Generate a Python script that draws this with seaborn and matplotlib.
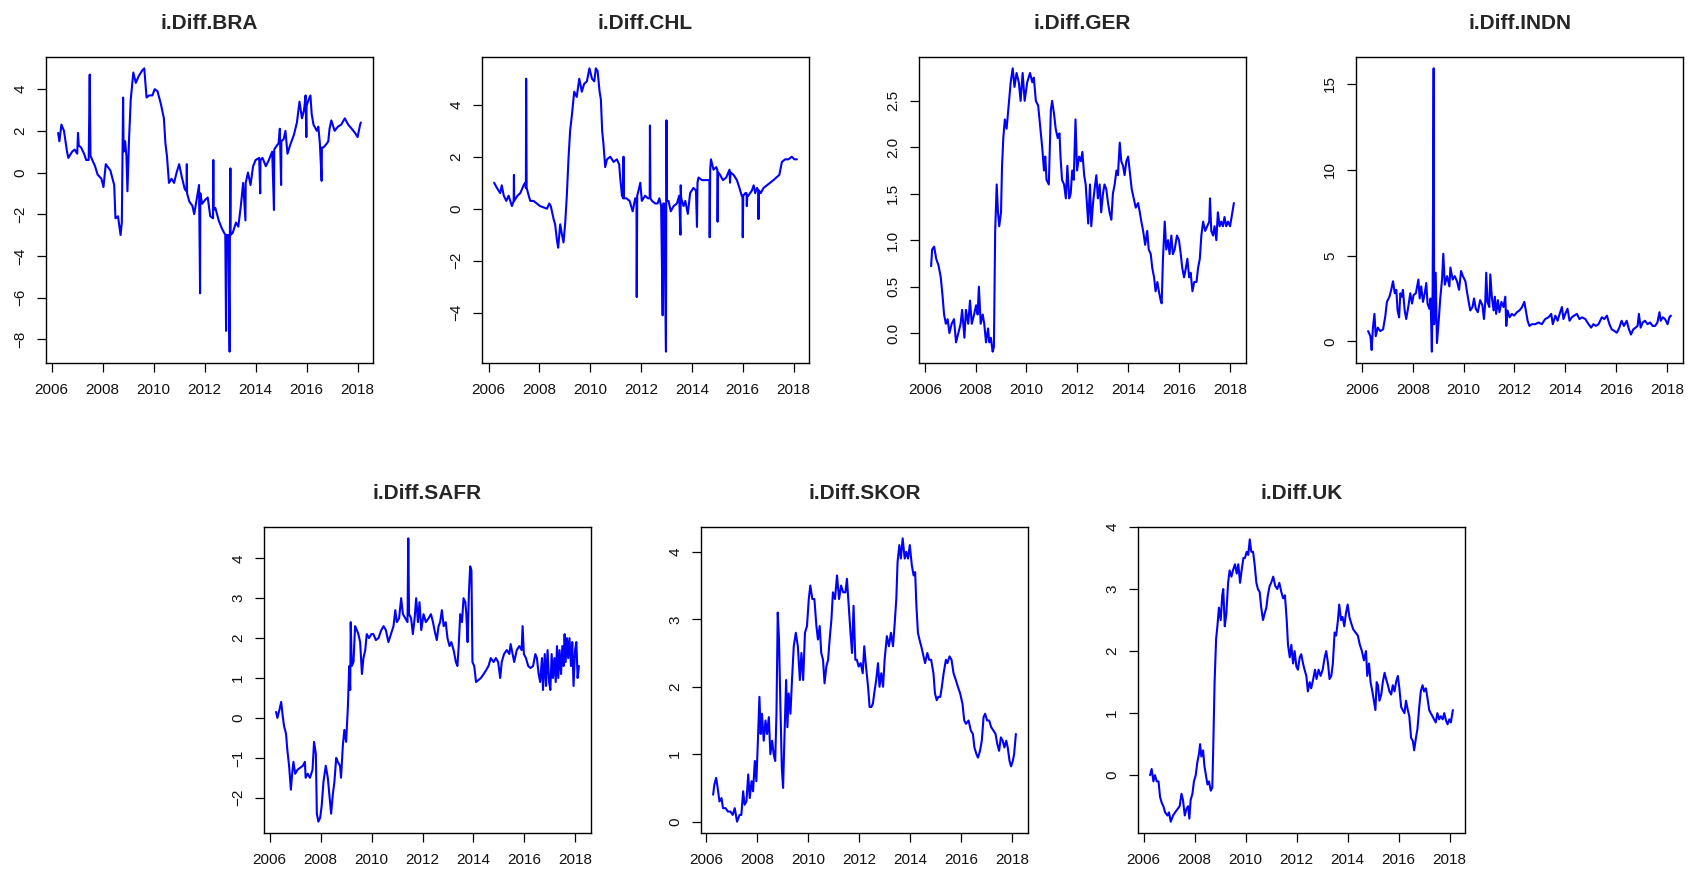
import matplotlib
matplotlib.use("Agg")
import matplotlib.pyplot as plt
import pandas as pd
import seaborn as sns
from matplotlib.ticker import FormatStrFormatter

# ---------------- data (decimal year, value) ----------------
bra = [(2006.25, 1.9), (2006.3, 1.5), (2006.38, 2.3), (2006.48, 2.0), (2006.6, 1.0), (2006.65, 0.7), (2006.8, 1.0),
       (2006.9, 1.1), (2007.0, 0.9), (2007.03, 1.9), (2007.06, 1.3), (2007.15, 1.2), (2007.27, 0.9), (2007.35, 0.6),
       (2007.45, 0.6), (2007.49, 4.7), (2007.52, 0.8), (2007.7, 0.3), (2007.8, -0.1), (2007.95, -0.3), (2008.03, -0.7),
       (2008.12, 0.4), (2008.3, 0.1), (2008.45, -0.6), (2008.5, -2.2), (2008.6, -2.1), (2008.7, -3.0), (2008.75, -2.4),
       (2008.8, 3.6), (2008.82, 1.0), (2008.88, 1.5), (2008.93, 0.8), (2008.97, -0.9), (2009.03, 1.5), (2009.1, 3.5),
       (2009.2, 4.8), (2009.3, 4.3), (2009.4, 4.6), (2009.55, 4.9), (2009.63, 5.0), (2009.72, 3.6), (2009.82, 3.7),
       (2009.95, 3.7), (2010.04, 4.0), (2010.15, 3.9), (2010.28, 3.3), (2010.4, 2.6), (2010.46, 1.4), (2010.52, 0.8),
       (2010.6, -0.5), (2010.7, -0.3), (2010.8, -0.5), (2010.9, 0.0), (2011.0, 0.4), (2011.1, -0.2), (2011.22, -0.8),
       (2011.29, -0.9), (2011.3, 0.4), (2011.31, -1.0), (2011.4, -1.4), (2011.52, -1.6), (2011.59, -2.0),
       (2011.7, -1.2), (2011.78, -0.6), (2011.82, -5.8), (2011.83, -1.0), (2011.9, -1.5), (2012.03, -1.3),
       (2012.12, -1.2), (2012.22, -2.1), (2012.33, -2.2), (2012.34, 0.6), (2012.35, -1.8), (2012.42, -1.7),
       (2012.55, -2.3), (2012.68, -2.7), (2012.81, -3.0), (2012.84, -7.6), (2012.86, -3.0), (2012.93, -3.0),
       (2012.98, -8.6), (2012.99, -3.1), (2013.01, 0.2), (2013.02, -3.0), (2013.1, -2.9), (2013.23, -2.4),
       (2013.32, -2.6), (2013.42, -1.6), (2013.51, -0.5), (2013.6, -2.3), (2013.61, -0.5), (2013.7, 0.0),
       (2013.8, -0.6), (2013.9, 0.3), (2014.0, 0.6), (2014.14, 0.7), (2014.18, -1.0), (2014.19, 0.6), (2014.27, 0.7),
       (2014.4, 0.3), (2014.52, 0.6), (2014.65, 1.0), (2014.72, -1.8), (2014.73, 1.1), (2014.78, 1.2), (2014.9, 1.4),
       (2014.95, 2.1), (2015.0, -0.6), (2015.01, 1.5), (2015.1, 1.6), (2015.17, 2.0), (2015.25, 0.9), (2015.35, 1.3),
       (2015.5, 1.8), (2015.62, 2.4), (2015.72, 3.4), (2015.82, 2.6), (2015.9, 3.0), (2015.96, 3.7), (2015.99, 1.7),
       (2016.0, 3.2), (2016.08, 3.5), (2016.15, 3.7), (2016.2, 2.8), (2016.27, 2.3), (2016.4, 2.0), (2016.46, 2.2),
       (2016.52, 1.4), (2016.59, -0.4), (2016.6, 1.2), (2016.66, 1.2), (2016.8, 1.4), (2016.85, 1.5), (2016.9, 2.1),
       (2016.97, 2.5), (2017.1, 2.0), (2017.23, 2.2), (2017.36, 2.3), (2017.5, 2.6), (2017.63, 2.3), (2017.77, 2.1),
       (2017.9, 1.9), (2018.0, 1.7), (2018.1, 2.3), (2018.13, 2.4)]

chl = [(2006.22, 1.0), (2006.33, 0.8), (2006.46, 0.6), (2006.52, 0.9), (2006.6, 0.5), (2006.7, 0.3), (2006.79, 0.5),
       (2006.92, 0.1), (2006.99, 0.3), (2007.0, 1.3), (2007.01, 0.3), (2007.14, 0.5), (2007.25, 0.6), (2007.38, 0.9),
       (2007.44, 1.0), (2007.47, 0.8), (2007.48, 5.0), (2007.5, 0.8), (2007.64, 0.3), (2007.77, 0.3), (2007.9, 0.2),
       (2008.03, 0.1), (2008.16, 0.05), (2008.3, 0.0), (2008.39, 0.2), (2008.45, 0.1), (2008.56, -0.4),
       (2008.62, -0.6), (2008.69, -1.2), (2008.74, -1.5), (2008.82, -0.6), (2008.89, -1.0), (2008.95, -1.3),
       (2009.02, -0.5), (2009.08, 0.5), (2009.15, 2.0), (2009.21, 3.0), (2009.28, 3.6), (2009.37, 4.5), (2009.47, 4.3),
       (2009.57, 5.0), (2009.67, 4.5), (2009.76, 4.8), (2009.87, 4.9), (2009.97, 5.4), (2010.07, 5.0), (2010.16, 4.9),
       (2010.22, 5.4), (2010.29, 5.3), (2010.37, 4.5), (2010.42, 4.2), (2010.47, 3.0), (2010.52, 2.5), (2010.59, 1.6),
       (2010.66, 1.9), (2010.79, 2.0), (2010.92, 1.8), (2011.05, 1.9), (2011.14, 1.7), (2011.18, 1.2), (2011.25, 0.5),
       (2011.3, 0.4), (2011.31, 2.0), (2011.32, 0.4), (2011.42, 0.4), (2011.55, 0.3), (2011.67, -0.1), (2011.77, 0.4),
       (2011.82, 0.4), (2011.83, -3.4), (2011.85, 0.5), (2011.9, 0.7), (2011.97, 1.0), (2012.03, 0.3), (2012.16, 0.5),
       (2012.27, 0.4), (2012.34, 0.4), (2012.35, 3.2), (2012.37, 0.4), (2012.43, 0.3), (2012.56, 0.2), (2012.65, 0.2),
       (2012.72, 0.4), (2012.79, 0.1), (2012.85, -4.1), (2012.87, 0.2), (2012.91, 0.2), (2012.98, -5.5),
       (2012.99, 0.2), (2013.0, 3.4), (2013.02, 0.3), (2013.08, 0.3), (2013.17, -0.1), (2013.28, 0.1), (2013.41, 0.2),
       (2013.5, 0.5), (2013.55, -1.0), (2013.56, 0.9), (2013.58, 0.4), (2013.67, 0.1), (2013.74, 0.3),
       (2013.84, -0.2), (2013.93, 0.6), (2014.06, 0.8), (2014.16, 0.7), (2014.2, -0.7), (2014.22, 1.0), (2014.26, 1.2),
       (2014.4, 1.1), (2014.52, 1.1), (2014.62, 1.1), (2014.69, 1.1), (2014.7, -1.1), (2014.72, 1.5), (2014.75, 1.9),
       (2014.85, 1.5), (2014.96, 1.6), (2015.0, 1.5), (2015.01, -0.5), (2015.03, 1.4), (2015.11, 1.3), (2015.22, 1.1),
       (2015.35, 1.2), (2015.48, 1.5), (2015.5, 1.0), (2015.52, 1.4), (2015.64, 1.3), (2015.77, 1.1), (2015.87, 0.8),
       (2015.96, 0.5), (2015.99, 0.5), (2016.0, -1.1), (2016.02, 0.5), (2016.1, 0.6), (2016.15, 0.6), (2016.16, 0.1),
       (2016.18, 0.5), (2016.22, 0.5), (2016.36, 0.7), (2016.43, 0.9), (2016.49, 0.6), (2016.56, 0.8), (2016.61, 0.7),
       (2016.62, -0.4), (2016.64, 0.7), (2016.71, 0.6), (2016.82, 0.8), (2016.95, 0.9), (2017.08, 1.0),
       (2017.21, 1.1), (2017.32, 1.2), (2017.44, 1.3), (2017.54, 1.8), (2017.67, 1.9), (2017.8, 1.9), (2017.93, 2.0),
       (2018.03, 1.9), (2018.13, 1.9)]

ger = [(2006.25, 0.72), (2006.29, 0.9), (2006.37, 0.93), (2006.45, 0.8), (2006.54, 0.73), (2006.63, 0.6),
       (2006.7, 0.4), (2006.76, 0.2), (2006.83, 0.1), (2006.9, 0.15), (2006.97, 0.0), (2007.06, 0.1), (2007.15, 0.15),
       (2007.23, -0.1), (2007.32, 0.0), (2007.41, 0.1), (2007.47, 0.25), (2007.56, -0.05), (2007.62, 0.25),
       (2007.71, 0.1), (2007.78, 0.35), (2007.85, 0.1), (2007.94, 0.2), (2008.02, 0.3), (2008.08, 0.2), (2008.13, 0.5),
       (2008.2, 0.1), (2008.28, 0.2), (2008.34, 0.1), (2008.41, -0.1), (2008.49, 0.05), (2008.54, -0.1),
       (2008.6, -0.05), (2008.67, -0.2), (2008.72, -0.15), (2008.77, 1.1), (2008.83, 1.6), (2008.88, 1.3),
       (2008.93, 1.15), (2009.0, 1.3), (2009.04, 1.8), (2009.09, 2.1), (2009.15, 2.3), (2009.22, 2.2), (2009.3, 2.45),
       (2009.38, 2.7), (2009.46, 2.85), (2009.53, 2.65), (2009.61, 2.8), (2009.7, 2.7), (2009.77, 2.5),
       (2009.85, 2.8), (2009.93, 2.5), (2010.03, 2.7), (2010.14, 2.8), (2010.23, 2.7), (2010.29, 2.75), (2010.37, 2.5),
       (2010.46, 2.45), (2010.55, 2.2), (2010.62, 2.0), (2010.69, 1.75), (2010.74, 1.9), (2010.79, 1.65),
       (2010.88, 1.6), (2010.96, 2.4), (2011.01, 2.5), (2011.09, 2.35), (2011.15, 2.2), (2011.23, 2.1), (2011.3, 2.15),
       (2011.34, 1.9), (2011.4, 1.65), (2011.48, 1.6), (2011.55, 1.45), (2011.61, 1.8), (2011.68, 1.45),
       (2011.74, 1.5), (2011.8, 1.75), (2011.86, 1.65), (2011.93, 2.3), (2011.99, 1.75), (2012.07, 1.9),
       (2012.14, 1.85), (2012.2, 1.95), (2012.27, 1.7), (2012.33, 1.6), (2012.4, 1.3), (2012.43, 1.18), (2012.5, 1.6),
       (2012.55, 1.15), (2012.62, 1.4), (2012.68, 1.55), (2012.75, 1.7), (2012.81, 1.45), (2012.88, 1.6),
       (2012.94, 1.3), (2013.01, 1.5), (2013.07, 1.6), (2013.14, 1.55), (2013.21, 1.4), (2013.27, 1.3),
       (2013.34, 1.22), (2013.4, 1.5), (2013.47, 1.6), (2013.54, 1.75), (2013.6, 1.7), (2013.67, 2.05),
       (2013.73, 1.85), (2013.8, 1.8), (2013.86, 1.7), (2013.93, 1.85), (2014.0, 1.9), (2014.06, 1.75),
       (2014.14, 1.55), (2014.22, 1.45), (2014.3, 1.35), (2014.39, 1.4), (2014.46, 1.3), (2014.52, 1.2),
       (2014.59, 1.1), (2014.67, 0.95), (2014.75, 1.1), (2014.81, 0.9), (2014.89, 0.85), (2014.95, 0.7),
       (2015.02, 0.6), (2015.08, 0.45), (2015.15, 0.55), (2015.21, 0.45), (2015.28, 0.35), (2015.32, 0.32),
       (2015.37, 0.8), (2015.44, 1.2), (2015.5, 0.9), (2015.57, 1.0), (2015.63, 0.85), (2015.7, 1.05), (2015.76, 0.85),
       (2015.83, 0.9), (2015.92, 1.05), (2016.0, 1.0), (2016.07, 0.85), (2016.13, 0.7), (2016.2, 0.6), (2016.27, 0.7),
       (2016.33, 0.8), (2016.4, 0.6), (2016.46, 0.65), (2016.53, 0.45), (2016.6, 0.55), (2016.69, 0.55),
       (2016.75, 0.7), (2016.82, 0.8), (2016.88, 1.05), (2016.95, 1.2), (2017.03, 1.1), (2017.11, 1.15),
       (2017.19, 1.2), (2017.22, 1.45), (2017.27, 1.1), (2017.34, 1.05), (2017.4, 1.15), (2017.47, 1.0),
       (2017.53, 1.3), (2017.6, 1.15), (2017.66, 1.2), (2017.73, 1.15), (2017.79, 1.25), (2017.86, 1.15),
       (2017.93, 1.2), (2018.01, 1.15), (2018.1, 1.3), (2018.16, 1.4)]

indn = [(2006.24, 0.6), (2006.33, 0.3), (2006.38, -0.5), (2006.43, 0.8), (2006.49, 1.6), (2006.54, 0.3),
        (2006.62, 0.8), (2006.72, 0.6), (2006.83, 0.7), (2006.92, 1.5), (2006.98, 2.3), (2007.08, 2.6), (2007.15, 3.0),
        (2007.22, 3.5), (2007.29, 2.8), (2007.35, 3.0), (2007.4, 1.8), (2007.46, 1.4), (2007.51, 2.8), (2007.57, 2.6),
        (2007.61, 3.0), (2007.68, 1.8), (2007.74, 1.3), (2007.82, 2.0), (2007.9, 2.8), (2007.97, 2.2), (2008.03, 2.7),
        (2008.12, 2.8), (2008.22, 3.6), (2008.27, 2.5), (2008.33, 3.2), (2008.4, 2.3), (2008.47, 2.8), (2008.53, 3.4),
        (2008.58, 2.2), (2008.65, 1.9), (2008.7, 2.5), (2008.75, -0.6), (2008.78, 3.0), (2008.82, 15.9),
        (2008.84, 1.0), (2008.9, 4.0), (2008.95, -0.1), (2009.02, 1.2), (2009.08, 2.5), (2009.15, 3.6), (2009.2, 5.1),
        (2009.26, 3.3), (2009.35, 3.8), (2009.44, 3.2), (2009.48, 4.3), (2009.57, 3.6), (2009.65, 3.8), (2009.74, 3.5),
        (2009.82, 3.0), (2009.9, 4.1), (2009.97, 3.8), (2010.07, 3.5), (2010.13, 2.9), (2010.2, 2.3), (2010.26, 1.8),
        (2010.35, 2.0), (2010.41, 2.5), (2010.48, 1.9), (2010.56, 1.7), (2010.65, 2.4), (2010.74, 2.1), (2010.8, 1.3),
        (2010.85, 2.2), (2010.89, 4.0), (2010.94, 2.3), (2011.01, 2.0), (2011.05, 3.9), (2011.11, 2.6), (2011.18, 1.8),
        (2011.23, 2.6), (2011.28, 1.6), (2011.35, 2.4), (2011.41, 1.7), (2011.49, 2.3), (2011.57, 2.0), (2011.64, 2.6),
        (2011.68, 0.9), (2011.73, 1.8), (2011.81, 1.4), (2011.9, 1.6), (2011.99, 1.5), (2012.1, 1.7), (2012.2, 1.8),
        (2012.3, 2.0), (2012.39, 2.3), (2012.47, 1.6), (2012.52, 1.2), (2012.59, 0.9), (2012.69, 1.0), (2012.82, 1.0),
        (2012.95, 1.1), (2013.08, 1.0), (2013.21, 1.3), (2013.34, 1.4), (2013.45, 1.6), (2013.51, 1.0), (2013.61, 1.5),
        (2013.7, 1.2), (2013.78, 1.6), (2013.87, 2.0), (2013.93, 1.3), (2014.0, 1.6), (2014.09, 1.9), (2014.17, 1.2),
        (2014.26, 1.4), (2014.35, 1.5), (2014.46, 1.6), (2014.56, 1.3), (2014.66, 1.4), (2014.79, 1.3), (2014.92, 1.0),
        (2015.02, 0.8), (2015.11, 1.0), (2015.21, 0.9), (2015.31, 1.0), (2015.44, 1.4), (2015.54, 1.3), (2015.64, 1.5),
        (2015.74, 1.0), (2015.83, 0.7), (2015.94, 0.6), (2016.03, 0.5), (2016.13, 0.8), (2016.22, 1.2), (2016.31, 0.9),
        (2016.42, 1.2), (2016.51, 0.7), (2016.59, 0.4), (2016.68, 0.7), (2016.77, 0.8), (2016.85, 0.9), (2016.9, 1.6),
        (2016.97, 0.8), (2017.05, 1.1), (2017.14, 1.2), (2017.24, 1.0), (2017.34, 1.1), (2017.44, 0.9), (2017.54, 0.9),
        (2017.63, 1.1), (2017.71, 1.7), (2017.76, 1.2), (2017.84, 1.4), (2017.93, 1.3), (2018.03, 1.0), (2018.1, 1.4),
        (2018.16, 1.5)]

safr = [(2006.25, 0.15), (2006.3, 0.0), (2006.38, 0.2), (2006.45, 0.4), (2006.5, 0.1), (2006.56, -0.2),
        (2006.64, -0.4), (2006.69, -0.8), (2006.76, -1.2), (2006.83, -1.8), (2006.88, -1.4), (2006.93, -1.1),
        (2007.0, -1.4), (2007.09, -1.3), (2007.19, -1.25), (2007.3, -1.2), (2007.38, -1.1), (2007.41, -1.5),
        (2007.49, -1.4), (2007.58, -1.5), (2007.68, -1.3), (2007.74, -0.6), (2007.81, -0.9), (2007.85, -2.4),
        (2007.91, -2.6), (2007.98, -2.5), (2008.04, -2.2), (2008.11, -1.6), (2008.2, -1.2), (2008.28, -1.5),
        (2008.35, -2.0), (2008.41, -2.4), (2008.48, -1.9), (2008.54, -1.6), (2008.61, -1.0), (2008.67, -1.1),
        (2008.76, -1.2), (2008.8, -1.5), (2008.87, -0.7), (2008.93, -0.3), (2009.0, -0.6), (2009.07, 0.3),
        (2009.12, 1.3), (2009.16, 0.7), (2009.18, 2.4), (2009.22, 1.3), (2009.29, 1.4), (2009.35, 2.3), (2009.42, 2.2),
        (2009.48, 2.1), (2009.55, 1.9), (2009.62, 1.1), (2009.68, 1.5), (2009.75, 1.7), (2009.81, 2.1), (2009.9, 2.0),
        (2009.99, 2.1), (2010.07, 2.1), (2010.17, 1.95), (2010.27, 2.0), (2010.38, 2.2), (2010.47, 2.3),
        (2010.56, 2.2), (2010.66, 1.9), (2010.76, 2.1), (2010.86, 2.3), (2010.93, 2.7), (2010.99, 2.4), (2011.08, 2.5),
        (2011.16, 3.0), (2011.23, 2.6), (2011.32, 2.5), (2011.41, 2.4), (2011.44, 4.5), (2011.47, 2.6), (2011.55, 2.5),
        (2011.62, 2.1), (2011.69, 2.5), (2011.75, 3.0), (2011.82, 2.4), (2011.88, 2.9), (2011.95, 2.2), (2012.04, 2.6),
        (2012.13, 2.4), (2012.24, 2.5), (2012.33, 2.6), (2012.41, 2.4), (2012.47, 2.2), (2012.56, 1.95),
        (2012.63, 2.3), (2012.69, 2.4), (2012.76, 2.7), (2012.83, 2.3), (2012.91, 2.4), (2012.98, 2.0), (2013.06, 1.8),
        (2013.13, 1.9), (2013.22, 1.7), (2013.31, 1.4), (2013.37, 1.3), (2013.42, 1.8), (2013.48, 2.6), (2013.55, 2.4),
        (2013.61, 3.0), (2013.68, 2.9), (2013.72, 2.6), (2013.77, 1.9), (2013.82, 3.1), (2013.87, 3.8), (2013.92, 3.7),
        (2013.96, 1.4), (2014.03, 1.3), (2014.1, 0.9), (2014.2, 0.95), (2014.29, 1.0), (2014.4, 1.1), (2014.5, 1.2),
        (2014.59, 1.3), (2014.68, 1.5), (2014.79, 1.4), (2014.88, 1.5), (2014.97, 1.4), (2015.05, 1.0), (2015.11, 1.4),
        (2015.2, 1.6), (2015.31, 1.7), (2015.41, 1.6), (2015.46, 1.85), (2015.54, 1.6), (2015.6, 1.4), (2015.7, 1.7),
        (2015.8, 1.8), (2015.89, 1.7), (2015.93, 2.3), (2015.98, 1.6), (2016.06, 1.5), (2016.15, 1.3), (2016.24, 1.25),
        (2016.34, 1.3), (2016.43, 1.6), (2016.49, 1.5), (2016.56, 1.1), (2016.62, 0.9), (2016.69, 1.5), (2016.73, 0.7),
        (2016.8, 1.6), (2016.85, 0.8), (2016.91, 1.7), (2016.97, 0.9), (2017.02, 0.7), (2017.07, 1.6), (2017.12, 1.0),
        (2017.18, 1.5), (2017.23, 0.9), (2017.28, 1.8), (2017.33, 1.0), (2017.38, 1.7), (2017.44, 1.1), (2017.49, 1.8),
        (2017.54, 1.3), (2017.58, 2.1), (2017.62, 1.4), (2017.67, 2.0), (2017.72, 1.5), (2017.77, 2.0), (2017.83, 1.3),
        (2017.88, 1.9), (2017.93, 0.8), (2017.99, 1.7), (2018.04, 1.9), (2018.09, 1.0), (2018.14, 1.3)]

skor = [(2006.26, 0.4), (2006.31, 0.55), (2006.38, 0.65), (2006.44, 0.5), (2006.51, 0.3), (2006.59, 0.35),
        (2006.65, 0.2), (2006.75, 0.2), (2006.84, 0.15), (2006.94, 0.15), (2007.03, 0.1), (2007.11, 0.2),
        (2007.2, 0.0), (2007.3, 0.1), (2007.37, 0.1), (2007.44, 0.45), (2007.5, 0.25), (2007.57, 0.3), (2007.64, 0.7),
        (2007.7, 0.35), (2007.77, 0.6), (2007.83, 0.45), (2007.9, 0.9), (2007.96, 0.6), (2008.02, 1.2), (2008.08, 1.85),
        (2008.13, 1.3), (2008.18, 1.6), (2008.25, 1.2), (2008.32, 1.5), (2008.38, 1.3), (2008.45, 1.55), (2008.51, 1.0),
        (2008.58, 1.2), (2008.64, 1.0), (2008.7, 0.9), (2008.75, 1.6), (2008.8, 3.1), (2008.85, 2.7), (2008.9, 1.8),
        (2008.96, 0.8), (2009.01, 0.5), (2009.06, 1.2), (2009.13, 2.1), (2009.18, 1.4), (2009.23, 1.9), (2009.3, 1.6),
        (2009.36, 2.1), (2009.43, 2.6), (2009.51, 2.8), (2009.59, 2.6), (2009.67, 2.1), (2009.73, 2.5), (2009.8, 2.1),
        (2009.87, 2.8), (2009.95, 2.9), (2010.02, 3.3), (2010.08, 3.5), (2010.16, 3.3), (2010.24, 3.3), (2010.32, 2.9),
        (2010.38, 2.7), (2010.45, 2.9), (2010.51, 2.5), (2010.58, 2.4), (2010.64, 2.05), (2010.71, 2.3),
        (2010.78, 2.4), (2010.84, 2.7), (2010.91, 3.0), (2010.97, 3.4), (2011.05, 3.3), (2011.13, 3.65),
        (2011.21, 3.3), (2011.29, 3.5), (2011.37, 3.4), (2011.46, 3.4), (2011.52, 3.6), (2011.59, 3.2), (2011.66, 2.8),
        (2011.72, 2.5), (2011.78, 3.2), (2011.85, 2.4), (2011.91, 2.4), (2011.98, 2.3), (2012.06, 2.35),
        (2012.14, 2.2), (2012.2, 2.6), (2012.27, 2.3), (2012.35, 2.0), (2012.41, 1.7), (2012.48, 1.7), (2012.54, 1.75),
        (2012.61, 1.95), (2012.67, 2.1), (2012.74, 2.35), (2012.8, 2.0), (2012.87, 2.2), (2012.94, 2.0), (2013.0, 2.4),
        (2013.09, 2.75), (2013.17, 2.6), (2013.25, 2.8), (2013.33, 2.6), (2013.39, 2.9), (2013.46, 3.3),
        (2013.51, 3.85), (2013.58, 4.1), (2013.64, 3.9), (2013.71, 4.2), (2013.79, 3.9), (2013.85, 4.0),
        (2013.92, 3.9), (2013.99, 4.1), (2014.07, 3.8), (2014.14, 3.65), (2014.2, 3.7), (2014.25, 3.2), (2014.31, 2.8),
        (2014.37, 2.7), (2014.44, 2.6), (2014.5, 2.5), (2014.59, 2.35), (2014.68, 2.5), (2014.75, 2.4), (2014.83, 2.4),
        (2014.92, 2.2), (2014.98, 1.9), (2015.05, 1.8), (2015.11, 1.85), (2015.19, 1.85), (2015.25, 2.0),
        (2015.32, 2.2), (2015.41, 2.4), (2015.47, 2.35), (2015.55, 2.45), (2015.63, 2.4), (2015.71, 2.2),
        (2015.8, 2.1), (2015.88, 2.0), (2015.97, 1.9), (2016.06, 1.75), (2016.13, 1.5), (2016.2, 1.45), (2016.3, 1.5),
        (2016.39, 1.35), (2016.47, 1.3), (2016.53, 1.1), (2016.61, 1.0), (2016.67, 0.95), (2016.75, 1.05),
        (2016.82, 1.2), (2016.89, 1.55), (2016.95, 1.6), (2017.03, 1.5), (2017.11, 1.5), (2017.19, 1.4),
        (2017.28, 1.35), (2017.36, 1.3), (2017.43, 1.15), (2017.5, 1.05), (2017.57, 1.25), (2017.64, 1.2),
        (2017.71, 1.1), (2017.78, 1.2), (2017.84, 1.1), (2017.91, 0.9), (2017.97, 0.82), (2018.04, 0.9),
        (2018.09, 1.0), (2018.16, 1.3)]

uk = [(2006.25, 0.0), (2006.31, 0.1), (2006.38, -0.1), (2006.44, 0.0), (2006.51, -0.1), (2006.58, -0.1),
      (2006.64, -0.35), (2006.71, -0.45), (2006.77, -0.5), (2006.84, -0.6), (2006.93, -0.65), (2006.99, -0.6),
      (2007.06, -0.75), (2007.15, -0.65), (2007.23, -0.6), (2007.32, -0.55), (2007.41, -0.5), (2007.48, -0.3),
      (2007.54, -0.4), (2007.61, -0.65), (2007.67, -0.55), (2007.74, -0.5), (2007.79, -0.7), (2007.84, -0.4),
      (2007.91, -0.3), (2007.97, -0.1), (2008.04, 0.0), (2008.1, 0.2), (2008.17, 0.35), (2008.21, 0.5),
      (2008.26, 0.3), (2008.33, 0.4), (2008.38, 0.15), (2008.44, 0.0), (2008.5, -0.15), (2008.56, -0.1),
      (2008.63, -0.25), (2008.69, -0.2), (2008.73, 0.5), (2008.78, 1.5), (2008.84, 2.2), (2008.89, 2.4),
      (2008.95, 2.7), (2009.02, 2.5), (2009.08, 2.9), (2009.12, 3.0), (2009.18, 2.4), (2009.24, 2.6), (2009.31, 3.1),
      (2009.37, 3.3), (2009.44, 3.2), (2009.5, 3.3), (2009.58, 3.4), (2009.65, 3.25), (2009.71, 3.4), (2009.78, 3.1),
      (2009.84, 3.3), (2009.91, 3.5), (2009.97, 3.5), (2010.04, 3.6), (2010.1, 3.55), (2010.16, 3.8), (2010.22, 3.6),
      (2010.29, 3.6), (2010.35, 3.4), (2010.42, 3.1), (2010.48, 3.0), (2010.55, 2.95), (2010.61, 2.7), (2010.68, 2.5),
      (2010.74, 2.6), (2010.81, 2.7), (2010.87, 2.9), (2010.94, 3.05), (2011.0, 3.1), (2011.08, 3.2), (2011.16, 3.05),
      (2011.24, 3.0), (2011.32, 3.1), (2011.4, 2.95), (2011.47, 2.85), (2011.54, 2.9), (2011.61, 2.5), (2011.66, 2.1),
      (2011.73, 1.9), (2011.79, 2.1), (2011.86, 1.8), (2011.92, 2.0), (2011.99, 1.75), (2012.05, 1.7),
      (2012.12, 1.9), (2012.18, 1.95), (2012.25, 1.8), (2012.31, 1.7), (2012.38, 1.6), (2012.44, 1.35),
      (2012.51, 1.5), (2012.57, 1.4), (2012.65, 1.55), (2012.72, 1.7), (2012.78, 1.55), (2012.86, 1.7),
      (2012.94, 1.6), (2013.02, 1.7), (2013.1, 1.9), (2013.16, 2.0), (2013.23, 1.8), (2013.29, 1.55), (2013.36, 1.6),
      (2013.42, 1.8), (2013.49, 2.3), (2013.55, 2.25), (2013.62, 2.5), (2013.67, 2.75), (2013.74, 2.5),
      (2013.8, 2.55), (2013.87, 2.4), (2013.93, 2.6), (2014.0, 2.75), (2014.07, 2.55), (2014.14, 2.45),
      (2014.22, 2.35), (2014.31, 2.3), (2014.4, 2.25), (2014.48, 2.1), (2014.56, 2.0), (2014.64, 1.85),
      (2014.72, 2.0), (2014.77, 1.6), (2014.84, 1.8), (2014.9, 1.5), (2014.97, 1.35), (2015.03, 1.2), (2015.09, 1.05),
      (2015.14, 1.5), (2015.19, 1.45), (2015.25, 1.2), (2015.32, 1.3), (2015.38, 1.5), (2015.45, 1.65),
      (2015.51, 1.55), (2015.58, 1.45), (2015.64, 1.35), (2015.71, 1.3), (2015.77, 1.45), (2015.84, 1.35),
      (2015.9, 1.5), (2015.97, 1.6), (2016.03, 1.4), (2016.1, 1.1), (2016.16, 1.05), (2016.23, 1.0), (2016.29, 1.2),
      (2016.36, 1.05), (2016.42, 0.95), (2016.49, 0.6), (2016.56, 0.55), (2016.61, 0.4), (2016.68, 0.6),
      (2016.74, 0.75), (2016.81, 1.1), (2016.87, 1.35), (2016.94, 1.45), (2017.0, 1.35), (2017.07, 1.4),
      (2017.13, 1.25), (2017.2, 1.05), (2017.26, 1.0), (2017.33, 0.95), (2017.39, 0.9), (2017.46, 0.85),
      (2017.52, 1.0), (2017.59, 0.9), (2017.65, 0.95), (2017.73, 0.9), (2017.79, 1.0), (2017.86, 0.88),
      (2017.92, 0.82), (2017.99, 0.9), (2018.05, 0.85), (2018.13, 1.05)]

titles = ["i.Diff.BRA", "i.Diff.CHL", "i.Diff.GER", "i.Diff.INDN", "i.Diff.SAFR", "i.Diff.SKOR", "i.Diff.UK"]
series = [bra, chl, ger, indn, safr, skor, uk]
yticks = [[-8, -6, -4, -2, 0, 2, 4], [-4, -2, 0, 2, 4], [0.0, 0.5, 1.0, 1.5, 2.0, 2.5],
          [0, 5, 10, 15], [-2, -1, 0, 1, 2, 3, 4], [0, 1, 2, 3, 4], [0, 1, 2, 3, 4]]
xticks = [2006, 2008, 2010, 2012, 2014, 2016, 2018]

# ---------------- layout (pixel boxes of the panels) ----------------
W, H = 1698, 874
boxes = [(46, 57), (482, 57), (919, 57), (1356, 57), (264, 527), (701, 527), (1138, 527)]
PW, PH = 327, 306

sns.set_theme(style="white")
plt.rcParams['font.family'] = ['Liberation Sans', 'DejaVu Sans']

fig = plt.figure(figsize=(W / 100, H / 100), dpi=100)
fig.patch.set_facecolor("white")

for i, (title, pts) in enumerate(zip(titles, series)):
    left, top = boxes[i]
    ax = fig.add_axes([left / W, 1 - (top + PH) / H, PW / W, PH / H])
    df = pd.DataFrame(pts, columns=["date", "value"])
    sns.lineplot(data=df, x="date", y="value", ax=ax, color="#0000FF",
                 linewidth=1.5, estimator=None, sort=False)
    ax.margins(x=0.04, y=0.04)
    ax.set_xticks(xticks)
    ax.set_yticks(yticks[i])
    if i == 2:
        ax.yaxis.set_major_formatter(FormatStrFormatter("%.1f"))
    ax.set_xlabel("")
    ax.set_ylabel("")
    ax.set_facecolor("white")
    for sp in ax.spines.values():
        sp.set_visible(True)
        sp.set_color("black")
        sp.set_linewidth(1.0)
    ax.tick_params(axis="both", which="major", direction="out", length=6.5, width=0.9,
                   color="black", labelsize=11, labelcolor="#111111", left=True, bottom=True)
    ax.tick_params(axis="x", pad=8)
    ax.tick_params(axis="y", pad=7)
    for lab in ax.get_yticklabels():
        lab.set_rotation(90)
        lab.set_va("center")
    ax.set_title(title, fontsize=15, fontweight="bold", pad=20)
    ax.grid(False)

fig.savefig("out.png", dpi=100, facecolor="white")
